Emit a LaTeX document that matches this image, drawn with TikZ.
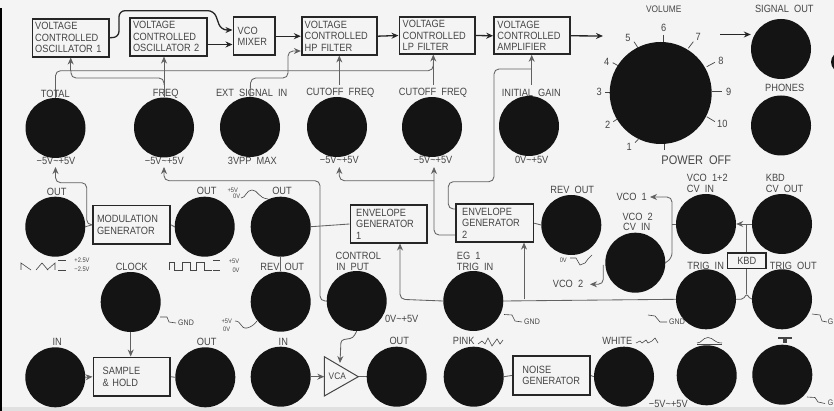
\documentclass[tikz,border=0pt]{standalone}
\usepackage{fontspec}
\newfontfamily\panelfont[FakeStretch=0.88]{Liberation Sans}
\usetikzlibrary{arrows.meta}
\pgfdeclarelayer{under}
\pgfsetlayers{under,main}
\definecolor{paper}{gray}{0.955}
\definecolor{ink}{gray}{0.27}
\definecolor{wirec}{gray}{0.38}
\definecolor{jackc}{gray}{0.08}
\tikzset{
  jack/.style={circle,fill=jackc,draw=none,inner sep=0pt,minimum size=60pt},
  blk/.style={draw=black!85,line width=1.7pt,fill=none,inner sep=0pt,text width=#1,align=left,text=ink,
     font=\panelfont\fontsize{10.5}{11.4}\selectfont},
  lab/.style={text=ink,inner sep=0pt,font=\panelfont\fontsize{10.5}{11}\selectfont},
  tiny/.style={text=ink,inner sep=0pt,font=\panelfont\fontsize{6.5}{6.5}\selectfont},
  gndl/.style={text=ink,inner sep=0pt,font=\panelfont\fontsize{8}{8}\selectfont},
  wire/.style={draw=wirec,line width=0.85pt,rounded corners=5pt},
  sig/.style={draw=black!85,line width=1.3pt,rounded corners=6pt},
  tip/.style={-{Stealth[length=7pt,width=6pt]}},
  tick/.style={draw=ink,line width=0.7pt},
  wave/.style={draw=ink,line width=0.6pt},
}
\begin{document}
\begin{tikzpicture}[x=1pt,y=-1pt]
\useasboundingbox (0,0) rectangle (834,411);
\clip (0,0) rectangle (834,411);
\begin{pgfonlayer}{under}
\fill[paper] (0,0) rectangle (834,411);
\fill[black] (0,8) rectangle (2,411);
\fill[white!88!black] (2,407) rectangle (834,411);
\end{pgfonlayer}

% jacks
\node[jack] (total) at (55.5,128) {};
\node[jack] (freq) at (164,127.5) {};
\node[jack] (ext) at (250,127) {};
\node[jack] (cuta) at (337,127) {};
\node[jack] (cutb) at (432,127) {};
\node[jack] (gain) at (529,126) {};
\node[jack,minimum size=102pt] (vol) at (660.7,93) {};
\node[jack] (sigout) at (781,49) {};
\node[jack] (phones) at (781,125.5) {};
\node[jack,minimum size=20pt] (blob) at (841,62) {};
\node[jack] (mout) at (55.3,226.7) {};
\node[jack] (mouts) at (204.7,226.7) {};
\node[jack] (egaout) at (280.7,226.7) {};
\node[jack] (clock) at (130.7,302) {};
\node[jack] (egarev) at (280.7,301.7) {};
\node[jack] (ctrl) at (356.7,301) {};
\node[jack] (shin) at (55.3,377.3) {};
\node[jack] (shout) at (205.3,377.3) {};
\node[jack] (vcain) at (280.7,376.7) {};
\node[jack] (vcaout) at (396.7,376.7) {};
\node[jack] (egbrev) at (571.3,225) {};
\node[jack] (cvboth) at (706,224) {};
\node[jack] (kbdcv) at (782,224) {};
\node[jack] (cvtwo) at (635.3,262.7) {};
\node[jack] (egtrig) at (473.3,301) {};
\node[jack] (trigin) at (706,299.3) {};
\node[jack] (trigout) at (782,299.3) {};
\node[jack] (pink) at (473.7,376.7) {};
\node[jack] (white) at (624,376.7) {};
\node[jack] (arch) at (706.7,375.3) {};
\node[jack] (tee) at (782.3,374.7) {};

% blocks
\node[blk=71pt,minimum width=76.7pt,minimum height=38pt] (vcoa) at (70.7,37.7) {VOLTAGE\\CONTROLLED\\OSCILLATOR 1};
\node[blk=71pt,minimum width=76.4pt,minimum height=38pt] (vcob) at (168.5,36.7) {VOLTAGE\\CONTROLLED\\OSCILLATOR 2};
\node[blk=33pt,minimum width=41.7pt,minimum height=37.7pt] (mix) at (254.2,36.2) {VCO\\MIXER\\ };
\node[blk=69pt,minimum width=75pt,minimum height=37.7pt] (hp) at (339.2,36.2) {VOLTAGE\\CONTROLLED\\HP FILTER};
\node[blk=69pt,minimum width=75.7pt,minimum height=37pt] (lp) at (437.2,35.5) {VOLTAGE\\CONTROLLED\\LP FILTER};
\node[blk=69pt,minimum width=75.7pt,minimum height=37pt] (amp) at (531.9,35.8) {VOLTAGE\\CONTROLLED\\AMPLIFIER};
\node[blk=69pt,minimum width=77pt,minimum height=38.3pt] (mod) at (131.5,224.8) {MODULATION\\GENERATOR\\ };
\node[blk=65pt,minimum width=76.7pt,minimum height=38pt] (ega) at (388.7,224) {ENVELOPE\\GENERATOR\\1};
\node[blk=65pt,minimum width=77.3pt,minimum height=38.3pt] (egb) at (494.7,223.2) {ENVELOPE\\GENERATOR\\2};
\node[blk=58pt,minimum width=76.7pt,minimum height=38.7pt] (sh) at (131.7,376.7) {SAMPLE\\\& HOLD\\ };
\node[blk=58pt,minimum width=76.7pt,minimum height=38.7pt] (noise) at (551.4,375.4) {NOISE\\GENERATOR\\ };
\node[blk=30pt,minimum width=38.3pt,minimum height=15.7pt,align=center,line width=1.2pt,fill=paper] (kbd) at (746.8,260.9) {KBD};
\coordinate (vcaa) at (324.3,356.7);
\coordinate (vcab) at (324.3,396);
\coordinate (vcatip) at (358.3,376.7);
\draw[draw=ink,line width=1pt,line join=miter] (vcaa) -- (vcatip) -- (vcab) -- cycle;
\node[lab,font=\panelfont\fontsize{9.5}{10}\selectfont] (vcat) at (337.3,376.7) {VCA};

\begin{pgfonlayer}{under}
% free ends and buses
\coordinate (ampend) at (603,36);
\coordinate (sigstart) at (720,34.5);
\coordinate (busa) at (0,70.7);
\coordinate (vcobo) at (650,197);
\coordinate (vcotw) at (590,284.3);

% signal chain
\draw[sig,tip] (vcoa.east) -- (119,37.3) -- (119,10.7) -- (214,10.7) -- (221,30) -- (mix.west |- 0,30);
\draw[sig,tip,line width=1pt] (vcob.east |- 0,44.5) -- (mix.west |- 0,44.5);
\draw[sig,tip] (mix.east) -- (hp.west);
\draw[sig,tip] (hp.east) -- (lp.west);
\draw[sig,tip] (lp.east) -- (amp.west);
\draw[sig,tip] (amp.east) -- (ampend);
\draw[sig,tip] (sigstart) -- (sigout.west |- sigstart);

% control to the top row
\draw[wire] (total.north) -- (55.5,70.7) -- (433.3,70.7) -- (433.3,62);
\draw[wire,tip] (vcoa.south |- busa) -- (vcoa.south);
\draw[wire,tip] (freq.north) -- (vcob.south -| freq.north);
\draw[wire] (freq.north |- 0,85) -- (164,78) -- (71,78) -- (71,70.7);
\draw[wire,tip] (ext.north) -- (250.7,78) -- (288,78) -- (288,51) -- (hp.west |- 0,51);
\draw[wire,tip] (339.3,85) -- (339.3,55.5);
\draw[wire,tip] (433.3,85) -- (433.3,54.5);
\draw[wire,tip] (531.7,85) -- (531.7,54.8);
\draw[wire] (egb.west |- 0,209) -- (448.3,209) -- (448.3,181.7) -- (494,181.7) -- (494,69) -- (531.7,69);

% returns to the bottom of the top jacks
\draw[wire,tip] (mod.west) -- (86.7,224.8) -- (86.7,182.7) -- (55.5,182.7) -- (55.5,167);
\draw[wire] (mout.east) -- (mod.west);
\draw[wire,tip] (ctrl.west) -- (320,301) -- (320,180.7) -- (164,180.7) -- (164,167);
\draw[wire] (egaout.east) -- (ega.west);
\draw[wire,tip] (egb.west |- 0,235) -- (434,235) -- (434,167);
\draw[wire,tip] (434,180.7) -- (339.3,180.7) -- (339.3,167);
\draw[wire] (mod.east) -- (mouts.west);
\draw[wire] (egb.east) -- (egbrev.west);
\draw[wire] (egaout.south) -- (egarev.north);
\draw[wire] (noise.east) -- (white.west);
\draw[wire] (pink.east) -- (noise.west);
\draw[wire] (sh.east) -- (shout.west);
\draw[wire,tip] (shin.east) -- (sh.west);
\draw[wire,tip] (clock.south) -- (sh.north -| clock.south);
\draw[wire,tip] (vcain.east) -- (vcaa |- vcain.east);
\draw[wire] (vcatip) -- (vcaout.west);
\draw[wire,tip,rounded corners=3pt] (ctrl.south) -- (353,338) -- (341,340) -- (340,363);
\draw[wire,tip] (egtrig.west) -- (400,299.3) -- (400,243.5);
\draw[wire] (egtrig.east) -- (trigin.west);
\draw[wire,tip] (524,299.3) -- (524,242.6);
\draw[wire,tip] (kbdcv.west) -- (cvboth.east);
\draw[wire] (746.7,294) -- (746.7,224);
\draw[wire,rounded corners=2pt] (trigin.east) -- (743,299.3) -- (746.7,294) -- (750.5,299.3) -- (trigout.west);
\draw[wire,tip] (cvtwo.east) -- (672,258) -- (672,197) -- (vcobo);
\draw[wire] (cvboth.west) -- (672,224);
\draw[wire,tip] (603.3,265) -- (603.3,284.3) -- (vcotw);

% volume ticks
\draw[tick] (663.7,35) -- (663.7,43.3);
\draw[tick] (634,41.7) -- (638.3,48.3);
\draw[tick] (612.7,62.7) -- (620,66.7);
\draw[tick] (605,92.3) -- (611.7,92.3);
\draw[tick] (613.3,121.7) -- (618.3,118.3);
\draw[tick] (635,142.7) -- (638.3,139.3);
\draw[tick] (693.3,41.7) -- (688.3,48.3);
\draw[tick] (715,62.3) -- (706.7,66.7);
\draw[tick] (721.7,91.7) -- (711.7,91.7);
\draw[tick] (715,121.7) -- (706.7,116.7);
\draw[tick] (664.3,143.3) -- (664.3,150);

% labels
\node[lab] (l1) at (55.3,94) {TOTAL};
\node[lab] (l2) at (165.7,94) {FREQ};
\node[lab] (l3) at (251.7,93) {EXT\ \ SIGNAL\ \ IN};
\node[lab] (l4) at (340.3,93) {CUTOFF\ \ FREQ};
\node[lab] (l5) at (433,93) {CUTOFF\ \ FREQ};
\node[lab] (l6) at (531.3,92.7) {INITIAL\ \ GAIN};
\node[lab] (l7) at (56,160.7) {−5V\textasciitilde+5V};
\node[lab] (l8) at (164.3,160.7) {−5V\textasciitilde+5V};
\node[lab] (l9) at (252.3,160.7) {3VPP\ \ MAX};
\node[lab] (l10) at (339.3,160) {−5V\textasciitilde+5V};
\node[lab] (l11) at (433,159.5) {−5V\textasciitilde+5V};
\node[lab] (l12) at (531.7,159.5) {0V\textasciitilde+5V};
\node[lab,font=\panelfont\fontsize{9.5}{10}\selectfont] (v0) at (663.7,9) {VOLUME};
\node[lab] (v6) at (663.7,27.7) {6};
\node[lab] (v5) at (628,38.3) {5};
\node[lab] (v4) at (606.7,62.3) {4};
\node[lab] (v3) at (599.3,92.3) {3};
\node[lab] (v2) at (607.7,124.7) {2};
\node[lab] (v1) at (629.3,147.3) {1};
\node[lab] (v7) at (698.3,37.3) {7};
\node[lab] (v8) at (721,61) {8};
\node[lab] (v9) at (728.7,91.7) {9};
\node[lab] (v10) at (722.3,123.7) {10};
\node[lab,font=\panelfont\fontsize{12.5}{13}\selectfont] (poff) at (696.3,160.3) {POWER\ \ OFF};
\node[lab] (so) at (784.3,9.3) {SIGNAL\ \ OUT};
\node[lab] (ph) at (784.7,88.3) {PHONES};
\node[lab] (o1) at (56.7,192) {OUT};
\node[lab] (o2) at (206.7,191) {OUT};
\node[lab] (o3) at (282,191) {OUT};
\node[lab] (clk) at (131.7,267.3) {CLOCK};
\node[lab] (rv1) at (282.3,267.3) {REV\ \ OUT};
\node[lab] (ci1) at (358.3,256) {CONTROL};
\node[lab] (ci2) at (352.7,267.3) {IN\ \ PUT};
\node[lab] (cv) at (401.7,319) {0V\textasciitilde+5V};
\node[lab] (i1) at (57.3,342.3) {IN};
\node[lab] (o4) at (206.7,342.3) {OUT};
\node[lab] (i2) at (283.3,341.7) {IN};
\node[lab] (o5) at (399.3,341.3) {OUT};
\node[lab] (rv2) at (572.3,190) {REV\ \ OUT};
\node[lab,anchor=west] (c1) at (686.7,178.3) {VCO\ \ 1+2};
\node[lab,anchor=west] (c2) at (686.7,189.3) {CV\ \ IN};
\node[lab,anchor=west] (k1) at (765.7,178) {KBD};
\node[lab,anchor=west] (k2) at (765.7,189) {CV\ \ OUT};
\node[lab] (vt1) at (631.7,197.3) {VCO\ \ 1};
\node[lab] (c3) at (637.7,216.7) {VCO\ \ 2};
\node[lab] (c4) at (636.7,227.3) {CV\ \ IN};
\node[lab] (vt2) at (568,284) {VCO\ \ 2};
\node[lab,anchor=west] (e1) at (456.7,255.7) {EG\ \ 1};
\node[lab,anchor=west] (e2) at (456.7,266.7) {TRIG\ \ IN};
\node[lab] (tr1) at (705.7,265.7) {TRIG\ \ IN};
\node[lab] (tr2) at (793.3,265.7) {TRIG\ \ OUT};
\node[lab] (pk) at (463.7,341.3) {PINK};
\node[lab] (wh) at (617.3,340.7) {WHITE};
\node[lab] (wb) at (668.3,404) {−5V\textasciitilde+5V};

% small voltage labels
\node[tiny] (t1) at (232.7,190) {+5V};
\node[tiny] (t2) at (236.7,196.7) {0V};
\draw[wave] (241,198) .. controls (246,198) and (246,190) .. (252,190) .. controls (258,190) and (258,198) .. (268,199);
\node[tiny] (t3) at (82,260.7) {+2.5V};
\node[tiny] (t4) at (82,269.5) {−2.5V};
\draw[wave] (58,260.5) -- (66,260.5) (58,270) -- (66,270);
\draw[wave] (21,270) -- (21,263) -- (31,270);
\draw[wave] (36,270) -- (42,263) -- (48,270) (47,270) -- (55,263) -- (55,270);
\node[tiny] (t5) at (234,261) {+5V};
\node[tiny] (t6) at (236,270) {0V};
\draw[wave] (213,260.5) -- (220,260.5) (213,270) -- (220,270);
\draw[wave] (169,270) -- (169,262) -- (174,262) -- (174,270) -- (182,270) -- (182,262) -- (190,262) -- (190,270) -- (196,270) -- (196,262) -- (204,262) -- (204,270) -- (212,270);
\node[tiny] (t7) at (226.7,321.7) {+5V};
\node[tiny] (t8) at (226.7,329.3) {0V};
\draw[wave] (235,321) .. controls (242,321) and (240,329) .. (247,328) .. controls (251,327) and (254,325) .. (257,321);
\node[tiny] (t9) at (563.3,260) {0V};
\draw[wave] (570,258) -- (576,258) -- (580,265) -- (585,263) -- (588,259) -- (592,255);

% ground marks
\draw[wave] (160,317) -- (167,317) -- (169,322) -- (176,323);
\node[gndl,anchor=west] (g1) at (178,323) {GND};
\draw[wave] (504,314.5) -- (512,315) -- (515,321) -- (522,322);
\node[gndl,anchor=west] (g2) at (524,321.5) {GND};
\draw[wave] (648,315) -- (655,316) -- (660,322) -- (667,322);
\node[gndl,anchor=west] (g3) at (669,321.5) {GND};
\draw[wave] (812,314) -- (820,315) -- (822,321) -- (827,322);
\node[gndl,anchor=east] (g4) at (833.5,321.5) {G};
\draw[wave] (807,397) -- (815,397.5) -- (818,402) -- (825,403.5);
\node[gndl,anchor=east] (g5) at (833.5,402.5) {G};

% noise and envelope glyphs
\draw[wave] (478,344) -- (482,341) -- (485,344) -- (488,338) -- (492,346) -- (497,339) -- (500,344) -- (503,340);
\draw[wave] (636,343) -- (640,341) -- (642,343) -- (646,340) -- (648,343) -- (652,341) -- (655,338) -- (658,343);
\draw[wave] (697,343) .. controls (702,343) and (702,338) .. (708,337.5) .. controls (714,338) and (714,343) .. (722,343);
\draw[wave] (697,344.5) -- (722,344.5);
\fill[ink] (778,336.5) rectangle (792,339);
\fill[ink] (783,339) rectangle (787,343);
\end{pgfonlayer}
\end{tikzpicture}
\end{document}
